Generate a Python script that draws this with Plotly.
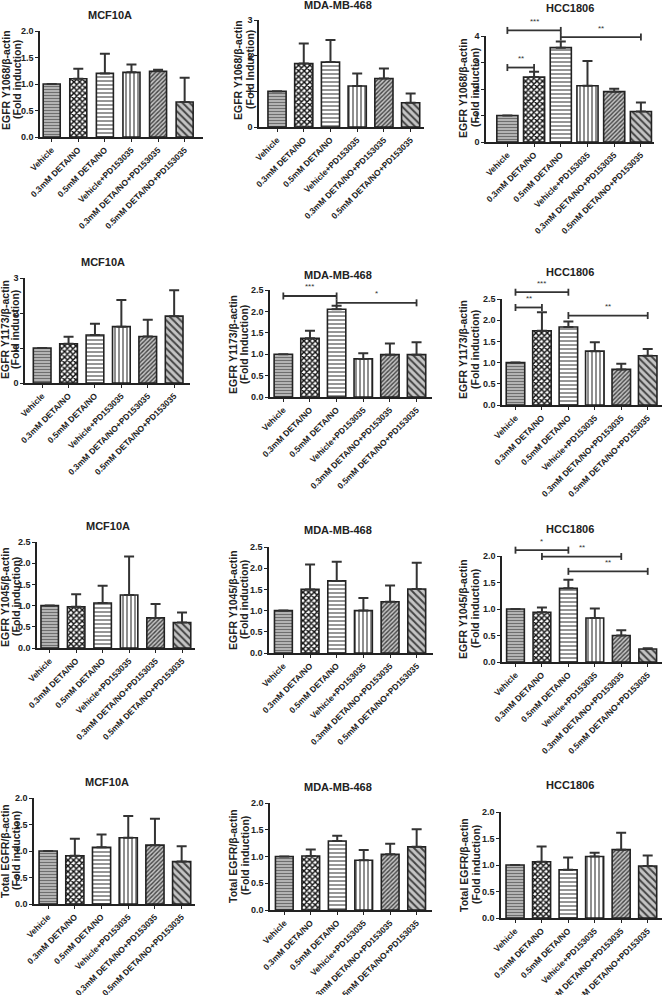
import plotly.graph_objects as go

W, H = 662, 995

categories = ["Vehicle", "0.3mM DETA/NO", "0.5mM DETA/NO", "Vehicle+PD153035",
              "0.3mM DETA/NO+PD153035", "0.5mM DETA/NO+PD153035"]

# ---- data (fold induction, mean and upper error) ----
y1068_mcf10a = [1.00, 1.10, 1.20, 1.22, 1.24, 0.66]
y1068_mcf10a_err = [0.00, 0.19, 0.37, 0.15, 0.03, 0.46]
y1068_mda = [1.00, 1.78, 1.82, 1.15, 1.36, 0.68]
y1068_mda_err = [0.00, 0.56, 0.62, 0.35, 0.28, 0.26]
y1068_hcc = [1.00, 2.45, 3.56, 2.12, 1.90, 1.15]
y1068_hcc_err = [0.00, 0.20, 0.23, 0.94, 0.11, 0.34]

y1173_mcf10a = [1.00, 1.12, 1.37, 1.61, 1.33, 1.91]
y1173_mcf10a_err = [0.00, 0.20, 0.32, 0.76, 0.48, 0.74]
y1173_mda = [1.00, 1.37, 2.05, 0.89, 0.99, 0.99]
y1173_mda_err = [0.00, 0.18, 0.08, 0.13, 0.26, 0.29]
y1173_hcc = [1.00, 1.75, 1.84, 1.27, 0.84, 1.16]
y1173_hcc_err = [0.00, 0.44, 0.13, 0.21, 0.13, 0.16]

y1045_mcf10a = [1.00, 0.97, 1.06, 1.25, 0.71, 0.60]
y1045_mcf10a_err = [0.00, 0.30, 0.41, 0.91, 0.33, 0.24]
y1045_mda = [1.00, 1.50, 1.70, 1.00, 1.21, 1.51]
y1045_mda_err = [0.00, 0.59, 0.45, 0.30, 0.38, 0.62]
y1045_hcc = [1.00, 0.94, 1.39, 0.83, 0.50, 0.245]
y1045_hcc_err = [0.00, 0.09, 0.16, 0.18, 0.10, 0.015]

total_mcf10a = [1.00, 0.91, 1.07, 1.25, 1.11, 0.80]
total_mcf10a_err = [0.00, 0.32, 0.24, 0.41, 0.50, 0.29]
total_mda = [1.00, 1.01, 1.29, 0.93, 1.04, 1.18]
total_mda_err = [0.00, 0.12, 0.10, 0.19, 0.20, 0.33]
total_hcc = [1.00, 1.06, 0.91, 1.16, 1.29, 0.98]
total_hcc_err = [0.00, 0.29, 0.23, 0.07, 0.32, 0.20]

# significance brackets: (from index, to index, height, label)
sig_y1068_hcc = [(0, 1, 2.81, "**"), (0, 2, 4.21, "***"), (2, 5, 3.96, "**")]
sig_y1173_mda = [(0, 2, 2.36, "***"), (2, 5, 2.20, "*")]
sig_y1173_hcc = [(0, 2, 2.66, "***"), (0, 1, 2.30, "**"), (2, 5, 2.11, "**")]
sig_y1045_hcc = [(0, 2, 2.11, "*"), (1, 4, 1.99, "**"), (2, 5, 1.71, "**")]

titles = ["MCF10A", "MDA-MB-468", "HCC1806"]
ytitle_line1 = ["EGFR Y1068/β-actin", "EGFR Y1173/β-actin", "EGFR Y1045/β-actin", "Total EGFR/β-actin"]
ytitle_line2 = [
    ["(Fold induction)", "(Fold Induction)", "(Fold induction)"],
    ["(Fold induction)", "(Fold Induction)", "(Fold induction)"],
    ["(Fold induction)", "(Fold induction)", "(Fold induction)"],
    ["(Fold induction)", "(Fold induction)", "(Fold induction)"],
]
values = [
    [(y1068_mcf10a, y1068_mcf10a_err), (y1068_mda, y1068_mda_err), (y1068_hcc, y1068_hcc_err)],
    [(y1173_mcf10a, y1173_mcf10a_err), (y1173_mda, y1173_mda_err), (y1173_hcc, y1173_hcc_err)],
    [(y1045_mcf10a, y1045_mcf10a_err), (y1045_mda, y1045_mda_err), (y1045_hcc, y1045_hcc_err)],
    [(total_mcf10a, total_mcf10a_err), (total_mda, total_mda_err), (total_hcc, total_hcc_err)],
]
sigs = [
    [[], [], sig_y1068_hcc],
    [[], sig_y1173_mda, sig_y1173_hcc],
    [[], [], sig_y1045_hcc],
    [[], [], []],
]
# axis scales: (ymax, dtick, tickformat)
yscales = [
    [(2.0, 0.5, ".1f"), (3, 1, "d"), (4, 1, "d")],
    [(3, 1, "d"), (2.5, 0.5, ".1f"), (2.5, 0.5, ".1f")],
    [(2.5, 0.5, ".1f"), (2.5, 0.5, ".1f"), (2.0, 0.5, ".1f")],
    [(2.0, 0.5, ".1f"), (2.0, 0.5, ".1f"), (2.0, 0.5, ".1f")],
]

# ---- layout (pixel boxes: left, right, top(ymax), bottom(0)) ----
boxes = [
    [(40, 203, 31, 137), (259, 424, 20, 127), (486, 654, 36, 142)],
    [(25, 190, 278, 383), (270, 432, 290, 397), (502, 662, 299, 405)],
    [(37, 195, 542, 648), (269, 433, 547, 653), (502, 662, 556, 662)],
    [(34, 195, 798, 904), (270, 432, 803, 910), (501, 662, 812, 918)],
]
xranges = [
    [(-0.44, 5.69), (-0.675, 5.5), (-0.8, 5.49)],
    [(-0.65, 5.6), (-0.5, 5.58), (-0.51, 5.54)],
    [(-0.48, 5.49), (-0.54, 5.61), (-0.51, 5.54)],
    [(-0.53, 5.5), (-0.54, 5.58), (-0.53, 5.54)],
]
bar_widths = [[0.64, 0.68, 0.79], [0.67, 0.69, 0.7], [0.66, 0.67, 0.67], [0.68, 0.67, 0.68]]
title_px = [
    [(110, 15), (338, 5), (570, 8)],
    [(103, 262), (338, 275), (570, 272)],
    [(108, 526), (338, 530), (570, 529)],
    [(107, 782), (338, 787), (570, 785)],
]
# (line1 x, line2 x, center y) of the rotated y-axis titles
ytitle_px = [
    [(6, 17, 80), (238, 250, 70), (463, 475, 88)],
    [(5, 15, 330), (233, 244, 345), (463, 475, 350)],
    [(5, 16, 597), (233, 244, 600), (463, 475, 609)],
    [(5, 16, 851), (233, 245, 856), (464, 476, 865)],
]

pat_shapes = ["-", "x", "-", "|", "/", "\\"]
pat_fg = ["#6e6e6e", "#111111", "#8a8a8a", "#444444", "#444444", "#444444"]
pat_bg = ["#c2c2c2", "#ffffff", "#ffffff", "#ffffff", "#c4c4c4", "#c4c4c4"]
pat_size = [3, 4, 4, 4, 3, 5]
pat_solid = [0.45, 0.6, 0.45, 0.3, 0.45, 0.4]

FONT = "Liberation Sans, Arial, sans-serif"
INK = "#222222"

fig = go.Figure()
annotations = []
shapes = []
layout_axes = {}

k = 0
for r in range(4):
    for c in range(3):
        k += 1
        xa = "x" if k == 1 else f"x{k}"
        ya = "y" if k == 1 else f"y{k}"
        xl, xr, yt, yb = boxes[r][c]
        r0, r1 = xranges[r][c]
        ymax, dtick, fmt = yscales[r][c]
        vals, errs = values[r][c]

        fig.add_trace(go.Bar(
            x=categories, y=vals, xaxis=xa, yaxis=ya,
            width=bar_widths[r][c],
            marker=dict(
                color="white",
                line=dict(color=INK, width=1.6),
                pattern=dict(shape=pat_shapes, fgcolor=pat_fg, bgcolor=pat_bg,
                             size=pat_size, solidity=pat_solid, fillmode="replace"),
            ),
            error_y=dict(type="data", symmetric=False, array=errs,
                         arrayminus=[0] * len(errs), color="#333333",
                         thickness=2, width=5),
            showlegend=False, hoverinfo="skip",
        ))

        xname = "xaxis" if k == 1 else f"xaxis{k}"
        yname = "yaxis" if k == 1 else f"yaxis{k}"
        layout_axes[xname] = dict(
            domain=[xl / W, min(xr / W, 1.0)], anchor=ya, type="category",
            range=[r0, r1], showline=True, linecolor=INK, linewidth=1.5,
            ticks="outside", ticklen=3, tickcolor=INK, tickwidth=1.2,
            tickangle=-45, showgrid=False, zeroline=False, automargin=False,
            tickfont=dict(family=FONT, size=8.5, color=INK, weight="bold"),
        )
        layout_axes[yname] = dict(
            domain=[1 - yb / H, 1 - yt / H], anchor=xa,
            range=[0, ymax], dtick=dtick, tick0=0, tickformat=fmt,
            showline=True, linecolor=INK, linewidth=1.5,
            ticks="outside", ticklen=3, tickcolor=INK, tickwidth=1.2,
            showgrid=False, zeroline=False, automargin=False,
            tickfont=dict(family=FONT, size=9, color=INK, weight="bold"),
        )

        tx, ty = title_px[r][c]
        annotations.append(dict(
            text=f"<b>{titles[c]}</b>", x=tx / W, y=1 - ty / H, xref="paper", yref="paper",
            showarrow=False, xanchor="center", yanchor="middle",
            font=dict(family=FONT, size=11, color=INK),
        ))
        lx1, lx2, ly = ytitle_px[r][c]
        for lx, txt in ((lx1, ytitle_line1[r]), (lx2, ytitle_line2[r][c])):
            annotations.append(dict(
                text=f"<b>{txt}</b>", x=lx / W, y=1 - ly / H, xref="paper", yref="paper",
                showarrow=False, xanchor="center", yanchor="middle", textangle=-90,
                font=dict(family=FONT, size=10.5, color=INK),
            ))

        # significance brackets (domain coordinates derived from the axis ranges)
        hpx = yb - yt
        cap = 3.5 / hpx
        for i, j, h, lab in sigs[r][c]:
            fx0 = (i - r0) / (r1 - r0)
            fx1 = (j - r0) / (r1 - r0)
            fy = h / ymax
            ref = dict(xref=f"{xa} domain", yref=f"{ya} domain")
            lw = dict(color="#333333", width=1.8)
            shapes.append(dict(type="line", x0=fx0, x1=fx1, y0=fy, y1=fy, line=lw, **ref))
            shapes.append(dict(type="line", x0=fx0, x1=fx0, y0=fy - cap, y1=fy + cap, line=lw, **ref))
            shapes.append(dict(type="line", x0=fx1, x1=fx1, y0=fy - cap, y1=fy + cap, line=lw, **ref))
            annotations.append(dict(
                text=lab, x=(fx0 + fx1) / 2, y=fy, showarrow=False,
                xanchor="center", yanchor="middle", yshift=9,
                font=dict(family=FONT, size=8, color="#333333"), **ref,
            ))

fig.update_layout(
    width=W, height=H, margin=dict(l=0, r=0, t=0, b=0),
    paper_bgcolor="white", plot_bgcolor="white",
    annotations=annotations, shapes=shapes, barmode="group",
    **layout_axes,
)

fig.write_html(
    "out.html",
    config={"displayModeBar": False},
    post_script="document.body.style.margin='0';document.documentElement.style.overflow='hidden';",
)
